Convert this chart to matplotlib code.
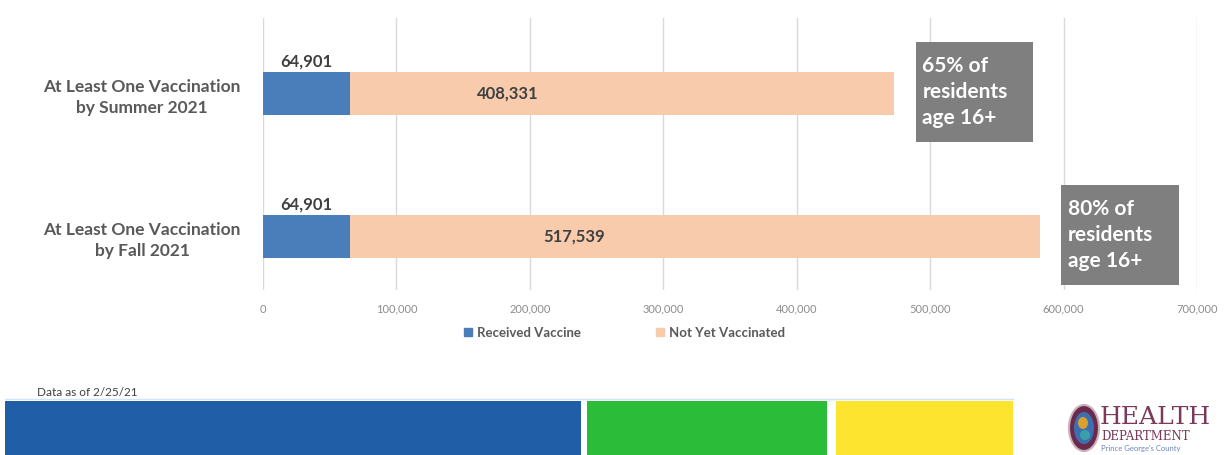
import matplotlib
matplotlib.use('Agg')
import matplotlib.pyplot as plt
from matplotlib.patches import Rectangle, Ellipse
from matplotlib.lines import Line2D
from matplotlib.ticker import FuncFormatter

plt.rcParams['font.family'] = ['Lato', 'DejaVu Sans']

# ── data ───────────────────────────────────────────────────
categories = ['At Least One Vaccination\nby Summer 2021',
              'At Least One Vaccination\nby Fall 2021']
received = [64901, 64901]
not_yet = [408331, 517539]
goal_labels = ['65% of\nresidents\nage 16+', '80% of\nresidents\nage 16+']
x_ticks = [0, 100000, 200000, 300000, 400000, 500000, 600000, 700000]
series_names = ['Received Vaccine', 'Not Yet Vaccinated']
banner_segments = [(5, 581, '#215ea8'), (587, 827, '#2bbd3a'), (836, 1013, '#fde52f')]

BLUE = '#4a7ebb'
PEACH = '#f8cbad'
GRAY_BOX = '#7f7f7f'
TXT = '#595959'

W, H = 1232, 455
fig = plt.figure(figsize=(W / 100, H / 100), dpi=100)
ax = fig.add_axes([263 / W, 1 - 290 / H, (1197 - 263) / W, 272 / H])

ypos = [1, 0]
bh = 0.30
ax.barh(ypos, received, height=bh, color=BLUE, zorder=3)
ax.barh(ypos, not_yet, left=received, height=bh, color=PEACH, zorder=3)

for y, r, n, g in zip(ypos, received, not_yet, goal_labels):
    ax.text(r / 2, y + bh / 2 + 0.02, f'{r:,}', ha='center', va='bottom',
            fontsize=12, fontweight='bold', color='#404040', zorder=4)
    ax.text(n * 0.45, y, f'{n:,}', ha='center', va='center',
            fontsize=12, fontweight='bold', color='#404040', zorder=4)
    total = r + n
    x0 = total + 16000
    ax.add_patch(Rectangle((x0, y - 0.34), 88000, 0.70, facecolor=GRAY_BOX,
                           edgecolor='none', zorder=5, clip_on=False))
    ax.text(x0 + 5000, y + 0.01, g, ha='left', va='center', fontsize=15,
            fontweight='bold', color='white', linespacing=1.4, zorder=6,
            clip_on=False)

ax.set_xlim(0, 700000)
ax.set_ylim(-0.374, 1.528)
ax.set_xticks(x_ticks)
ax.xaxis.set_major_formatter(FuncFormatter(lambda v, p: f'{int(v):,}'))
ax.tick_params(axis='x', length=0, pad=10, labelsize=8, labelcolor='#8c8c8c')
ax.set_yticks(ypos)
ax.set_yticklabels(categories, fontsize=12.5, fontweight='bold', color=TXT,
                   ha='center', linespacing=1.35)
ax.tick_params(axis='y', length=0, pad=87)
ax.grid(axis='x', color='#d9d9d9', linewidth=1, zorder=0)
for s in ax.spines.values():
    s.set_visible(False)

handles = [Line2D([0], [0], marker='s', linestyle='none', markersize=6,
                  color=c, label=n) for c, n in zip([BLUE, PEACH], series_names)]
leg = fig.legend(handles=handles, loc='center', bbox_to_anchor=(623 / W, 1 - 333 / H),
                 ncol=2, frameon=False, fontsize=9.5, columnspacing=5.5,
                 handletextpad=0.2, handlelength=1)
for t in leg.get_texts():
    t.set_color(TXT)
    t.set_fontweight('bold')

# ── footer banner ──────────────────────────────────────────
fig.text(37 / W, 1 - 393 / H, 'Data as of 2/25/21', fontsize=8.5, color='#404040',
         va='center', ha='left')
fig.add_artist(Line2D([5 / W, 1013 / W], [1 - 399 / H, 1 - 399 / H],
                      color='#d6e3f3', linewidth=1.0))
for x0, x1, c in banner_segments:
    fig.add_artist(Rectangle((x0 / W, 0), (x1 - x0) / W, 1 - 401 / H,
                             facecolor=c, edgecolor='none'))

# logo
logo_ax = fig.add_axes([1066 / W, 2 / H, 36 / W, 50 / H])
logo_ax.set_xlim(0, 36)
logo_ax.set_ylim(0, 50)
logo_ax.add_patch(Ellipse((18, 25), 30, 46, facecolor='#6b2a4a', edgecolor='#c8b0bc', lw=1.5))
logo_ax.add_patch(Ellipse((18, 25), 20, 32, facecolor='#3d6fb0', edgecolor='none'))
logo_ax.add_patch(Ellipse((17, 30), 10, 12, facecolor='#d9a030', edgecolor='none'))
logo_ax.add_patch(Ellipse((19, 18), 10, 10, facecolor='#38a0a8', edgecolor='none'))
logo_ax.axis('off')
fig.text(1100 / W, 1 - 417 / H, 'HEALTH', fontsize=18, family='DejaVu Serif',
         color='#7b3a5a', va='center', ha='left')
fig.text(1101 / W, 1 - 437 / H, 'DEPARTMENT', fontsize=8.5, family='DejaVu Serif',
         color='#7b3a5a', va='center', ha='left')
fig.text(1101 / W, 1 - 448 / H, "Prince George's County", fontsize=5.5,
         color='#6a86b8', va='center', ha='left')

fig.savefig('out.png', dpi=100)
